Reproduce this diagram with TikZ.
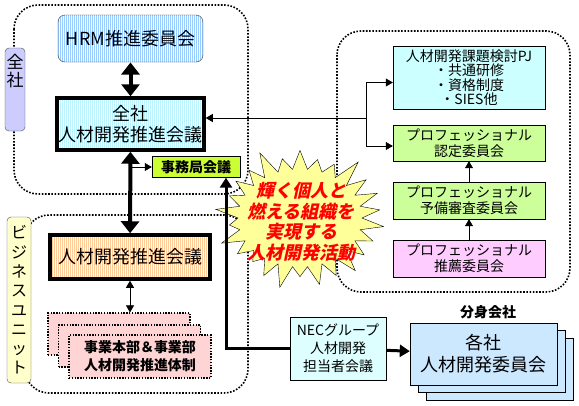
\documentclass[tikz,border=0pt]{standalone}
\usepackage{fontspec}
\setmainfont{Noto Sans CJK JP}
\newfontfamily\burstfont[FakeSlant=0.22]{Noto Sans CJK JP}
\usetikzlibrary{arrows.meta}
\usetikzlibrary{shapes.symbols}
\usetikzlibrary{patterns.meta}
\definecolor{zenshatag}{HTML}{CCCCFF}
\definecolor{butag}{HTML}{FFFFCC}
\definecolor{hrmline}{HTML}{99CCFF}
\definecolor{zsline}{HTML}{BBF4FF}
\definecolor{buline}{HTML}{FFCC99}
\definecolor{jimu}{HTML}{CCFF33}
\definecolor{pjcyan}{HTML}{CCFFFF}
\definecolor{progreen}{HTML}{CCFF99}
\definecolor{propink}{HTML}{FFCCFF}
\definecolor{jgpink}{HTML}{FFD4D4}
\definecolor{neccyan}{HTML}{DDFFFF}
\definecolor{ksblue}{HTML}{CCE8FF}
\definecolor{burst}{HTML}{FFFF99}

\begin{document}
\begin{tikzpicture}[x=1pt,y=-1pt,
		frame/.style={line width=1.6pt,dash pattern=on 1.6pt off 1.6pt,rounded corners=24pt},
		tagbox/.style={draw=black!70,rounded corners=4pt,inner sep=0pt,align=center},
		box/.style={draw,align=center,inner sep=0pt,font=\fontsize{14}{16}\selectfont},
		bigbox/.style={draw,line width=3.5pt,align=center,inner sep=0pt,font=\fontsize{18}{21}\selectfont},
		stripes/.style={preaction={fill=white},pattern={Lines[angle=90,distance=2pt,line width=1pt]},pattern color=#1},
		fat/.style={line width=4pt,{Triangle[length=12pt,width=18pt]}-{Triangle[length=12pt,width=18pt]}},
		link/.style={semithick,-{Triangle[length=7pt,width=8pt]}},
		heavy/.style={line width=3pt,-{Triangle[length=10pt,width=12pt]}}]
			\useasboundingbox (0,0) rectangle (579,405);
			% dotted frames
			\draw [frame] (14,5) rectangle (248,194);
			\draw [frame] (25,215) rectangle (248,393);
			\draw [frame] (337,31) rectangle (570,292);
			% side tags
			\node [tagbox,fill=zenshatag,minimum width=20pt,minimum height=83pt,
				label={[anchor=north,align=center,yshift=-3pt,font=\fontsize{17}{18}\selectfont]north:{全\\社}}] (zl) at (15,89.5) {};
			\node [tagbox,fill=butag,minimum width=24pt,minimum height=166pt,font=\fontsize{16}{19.3}\selectfont] (bl) at (19,300) {ビ\\ジ\\ネ\\ス\\ユ\\ニ\\ッ\\ト};
			% left column
			\node [box,draw=black!80,rounded corners=7pt,stripes=hrmline,minimum width=145pt,minimum height=47pt,font=\fontsize{18}{21}\selectfont] (hrm) at (130.5,38.5) {HRM推進委員会};
			\node [bigbox,stripes=zsline,minimum width=147pt,minimum height=52pt] (zs) at (130.5,124) {全社\\人材開発推進会議};
			\node [box,fill=jimu,minimum width=88pt,minimum height=21pt,font=\fontsize{14}{16}\selectfont\bfseries] (jmk) at (196,167) {事務局会議};
			\node [bigbox,stripes=buline,minimum width=160pt,minimum height=44pt] (bu) at (130,257) {人材開発推進会議};
			\node [box,fill=jgpink,dash pattern=on 1.4pt off 1.4pt,line width=1.2pt,minimum width=142pt,minimum height=42pt] (jg3) at (119,334) {};
			\node [box,fill=jgpink,dash pattern=on 1.4pt off 1.4pt,line width=1.2pt,minimum width=142pt,minimum height=42pt] (jg2) at (129.5,346) {};
			\node [box,fill=jgpink,dash pattern=on 1.4pt off 1.4pt,line width=1.2pt,minimum width=142pt,minimum height=43pt,font=\fontsize{14}{18}\selectfont\bfseries] (jg) at (140,356.5) {事業本部＆事業部\\人材開発推進体制};
			% right column
			\node [box,fill=pjcyan,minimum width=152pt,minimum height=63pt,font=\fontsize{14}{14.5}\selectfont] (pj) at (469,77.5) {人材開発課題検討PJ\\・共通研修\\・資格制度\\・SIES他};
			\node [box,fill=progreen,minimum width=152pt,minimum height=36pt] (nt) at (469,143) {プロフェッショナル\\認定委員会};
			\node [box,fill=progreen,minimum width=152pt,minimum height=37pt] (ys) at (469,200.5) {プロフェッショナル\\予備審査委員会};
			\node [box,fill=propink,minimum width=152pt,minimum height=37pt] (ss) at (469,258.5) {プロフェッショナル\\推薦委員会};
			% bottom row
			\node [box,fill=neccyan,minimum width=96pt,minimum height=63pt,font=\fontsize{14}{18}\selectfont] (nec) at (338,348.5) {NECグループ\\人材開発\\担当者会議};
			\node [box,fill=ksblue,minimum width=147pt,minimum height=62pt] (ks3) at (499.5,369) {};
			\node [box,fill=ksblue,minimum width=147pt,minimum height=62pt] (ks2) at (491.5,361.5) {};
			\node [box,fill=ksblue,minimum width=147pt,minimum height=62pt,font=\fontsize{18}{22}\selectfont] (ks) at (483.5,354) {各社\\人材開発委員会};
			\node [font=\fontsize{14}{16}\selectfont\bfseries] (bs) at (488,312) {分身会社};
			% starburst
			\node [starburst,starburst points=26,starburst point height=26pt,fill=burst,draw,thin,minimum width=176pt,minimum height=150pt] (kg) at (300,218) {};
			\node [align=center,text=red,font=\fontsize{18}{20.5}\selectfont\burstfont\bfseries] (kgt) at (301,222) {輝く個人と\\燃える組織を\\実現する\\人材開発活動};
			% connectors
			\draw [fat] (hrm) -- (zs);
			\draw [fat] (zs) -- (bu);
			\draw [link] (zs.south |- jmk.west) -- (jmk.west);
			\draw [semithick,{Triangle[length=7pt,width=8pt]}-{Triangle[length=7pt,width=8pt]}] (bu.south) -- (bu.south |- jg3.north);
			\coordinate (br) at (366,118);
			\draw [link] (br) -- (br -| zs.east);
			\draw [link] (br) |- ([yshift=-5pt]pj.west);
			\draw [link] (br) |- ([yshift=-3pt]nt.west);
			\draw [link] (ss) -- (ys);
			\draw [link] (ys) -- (nt);
			\draw [heavy] (nec.west) -| ([xshift=30pt]jmk.south);
			\draw [heavy] (nec) -- (ks);
		\end{tikzpicture}
\end{document}
